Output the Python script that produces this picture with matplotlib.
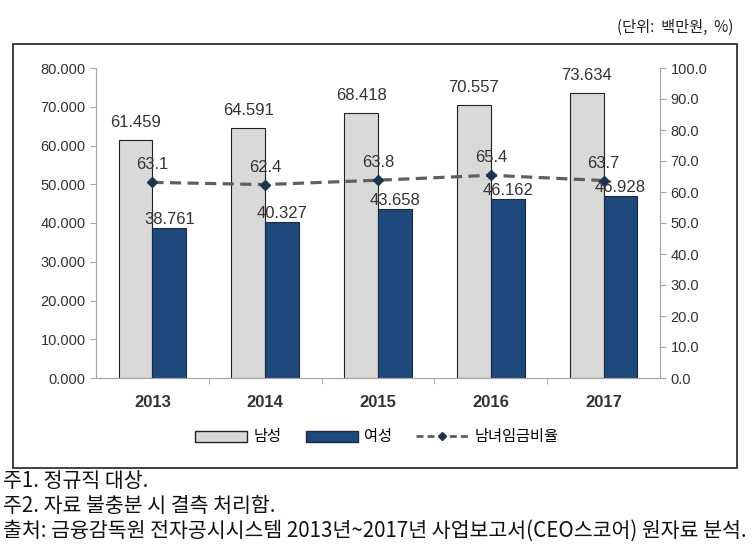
import numpy as np
import matplotlib.pyplot as plt
from matplotlib.patches import Rectangle, Patch
from matplotlib.lines import Line2D
from matplotlib import font_manager

plt.rcParams['font.family'] = ['Noto Sans CJK KR', 'DejaVu Sans']

# DATA
years = ['2013', '2014', '2015', '2016', '2017']
male = [61.459, 64.591, 68.418, 70.557, 73.634]
female = [38.761, 40.327, 43.658, 46.162, 46.928]
ratio = [63.1, 62.4, 63.8, 65.4, 63.7]

notes = ['주1. 정규직 대상.',
         '주2. 자료 불충분 시 결측 처리함.',
         '출처: 금융감독원 전자공시시스템 2013년~2017년 사업보고서(CEO스코어) 원자료 분석.']

names = {f.name for f in font_manager.fontManager.ttflist}
narrow = 'Liberation Sans Narrow' if 'Liberation Sans Narrow' in names else 'Liberation Sans'

W, H = 754, 559
fig = plt.figure(figsize=(W/100, H/100), dpi=100)

# outer frame
fig.patches.append(Rectangle((13/W, 1-468/H), 724/W, 424/H, transform=fig.transFigure,
                             fill=False, edgecolor='#333333', linewidth=1.3))

ax = fig.add_axes([96/W, 1-378/H, 564/W, 310/H])
ax2 = ax.twinx()

x = np.arange(len(years))
bw = 0.30
gray_c = '#d9d9d9'
navy_c = '#1f487c'

ax.bar(x - bw/2, male, bw, color=gray_c, edgecolor='#222222', linewidth=0.8, zorder=2)
ax.bar(x + bw/2, female, bw, color=navy_c, edgecolor='#1a2a40', linewidth=0.8, zorder=2)

for i in range(len(years)):
    ax.text(x[i] - bw/2, male[i] + 2.6, f'{male[i]:.3f}', ha='center', va='bottom',
            fontsize=12, color='#333333', family=narrow)
    ax.text(x[i] + bw/2, female[i] + 0.2, f'{female[i]:.3f}', ha='center', va='bottom',
            fontsize=12, color='#333333', family=narrow)

ax2.plot(x, ratio, color='#5f5f5f', linestyle=(0, (3.5, 2)), linewidth=2.3,
         marker='D', markersize=5, markerfacecolor='#1f3350', markeredgecolor='#1f3350', zorder=3)
for i in range(len(years)):
    ax2.text(x[i], ratio[i] + 3.2, f'{ratio[i]:.1f}', ha='center', va='bottom',
             fontsize=12, color='#333333', family=narrow)

ax.set_xlim(-0.5, len(years) - 0.5)
ax.set_ylim(0, 80)
ax2.set_ylim(0, 100)
ax.set_yticks(np.arange(0, 81, 10))
ax.set_yticklabels([f'{v:.3f}' for v in np.arange(0, 81, 10)])
ax2.set_yticks(np.arange(0, 101, 10))
ax2.set_yticklabels([f'{v:.1f}' for v in np.arange(0, 101, 10)])
ax.set_xticks(x)
ax.set_xticklabels(years, fontsize=12, fontweight='bold', color='#333333', family=narrow)
ax.set_xticks(np.arange(0.5, len(years) - 1, 1), minor=True)

for a in (ax, ax2):
    a.spines['top'].set_visible(False)
    for s in ('left', 'right', 'bottom'):
        a.spines[s].set_color('#a6a6a6')
    a.tick_params(axis='y', colors='#a6a6a6', length=4, labelsize=10.5, labelcolor='#333333')
    for lbl in a.get_yticklabels():
        lbl.set_family(narrow)
ax.tick_params(axis='x', which='major', length=0, pad=12)
ax.tick_params(axis='x', which='minor', length=4, color='#a6a6a6')

# legend
handles = [Patch(facecolor=gray_c, edgecolor='#222222', label='남성'),
           Patch(facecolor=navy_c, edgecolor='#1a2a40', label='여성'),
           Line2D([0], [0], color='#5f5f5f', linestyle=(0, (2.5, 1.5)), linewidth=2,
                  marker='D', markersize=4, markerfacecolor='#1f3350',
                  markeredgecolor='#1f3350', label='남녀임금비율')]
fig.legend(handles=handles, loc='center', bbox_to_anchor=(377/W, 1-437/H), ncol=3,
           frameon=False, fontsize=11, handlelength=3.4, handleheight=0.7, columnspacing=1.6,
           handletextpad=0.4)

fig.text(733/W, 1-27/H, '(단위:  백만원,  %)', ha='right', va='center', fontsize=11, color='#222222')

for j, t in enumerate(notes):
    fig.text(3/W, 1-(481 + 25*j)/H, t, ha='left', va='center', fontsize=14.8, color='#111111')

fig.savefig('out.png', dpi=100)
